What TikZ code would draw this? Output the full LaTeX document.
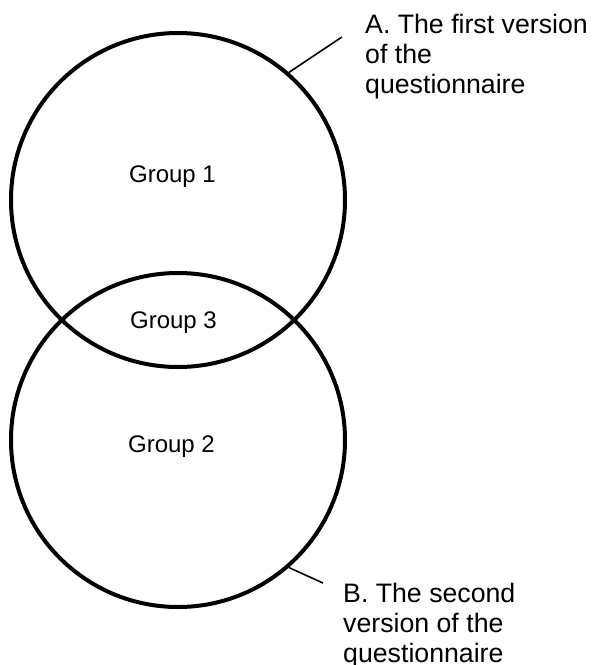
\documentclass[tikz,border=0pt]{standalone}
\usepackage{fontspec}
\setmainfont{Liberation Sans}
\begin{document}
\begin{tikzpicture}[x=1pt,y=-1pt,
  ring/.style={draw=black,line width=4pt},
  leader/.style={draw=black,line width=1.6pt},
  grouplabel/.style={anchor=base,inner sep=0pt,font=\fontsize{24}{28}\selectfont},
  verlabel/.style={anchor=north west,inner sep=0pt,align=left,font=\fontsize{26.7}{30}\selectfont}]
\useasboundingbox (0,0) rectangle (592,665);
\fill[white] (0,0) rectangle (592,665);
\node[circle,ring,minimum size=334pt,inner sep=0pt] (A) at (178,200) {};
\node[circle,ring,minimum size=334pt,inner sep=0pt] (B) at (178,440) {};
\node[grouplabel] (g1) at (172.5,182) {Group 1};
\node[grouplabel] (g3) at (173.5,328) {Group 3};
\node[grouplabel] (g2) at (171.5,452.5) {Group 2};
\node[verlabel] (la) at (365,13.5) {A. The first version\\of the\\questionnaire};
\node[verlabel] (lb) at (343,582.5) {B. The second\\version of the\\questionnaire};
\coordinate (ea) at (342,37);
\coordinate (eb) at (323,583);
\draw[leader] (A.{atan2(128,110)}) -- (ea);
\draw[leader] (B.{-atan2(127,110)}) -- (eb);
\end{tikzpicture}
\end{document}
